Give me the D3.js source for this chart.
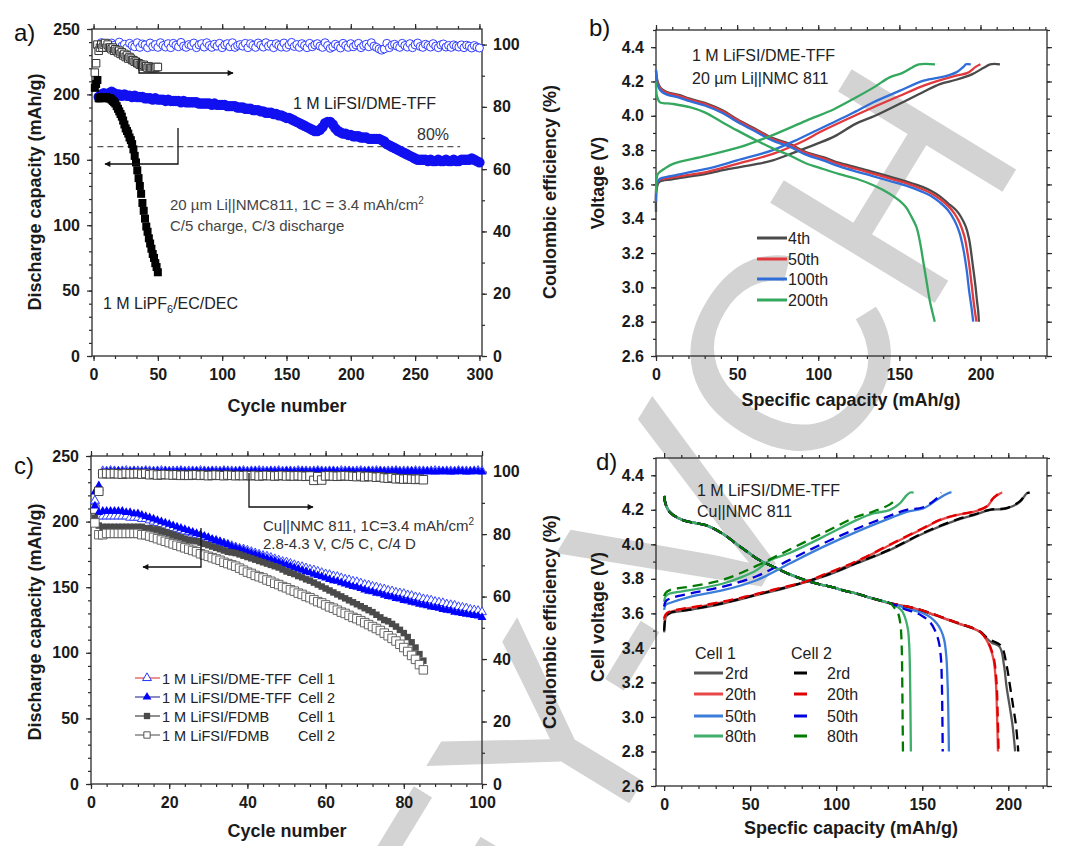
<!DOCTYPE html>
<html><head><meta charset="utf-8">
<script src="https://cdn.jsdelivr.net/npm/d3@7"></script>
<style>html,body{margin:0;padding:0;background:#fff;} svg{display:block;}</style>
</head><body>
<svg id="chart" width="1080" height="846"></svg>
<script>
// ---------------- DATA ----------------
const aCycleTicks = [0, 50, 100, 150, 200, 250, 300];
const capTicks = [0, 50, 100, 150, 200, 250];
const ceTicks = [0, 20, 40, 60, 80, 100];
const cCycleTicks = [0, 20, 40, 60, 80, 100];
const voltTicks = [2.6, 2.8, 3.0, 3.2, 3.4, 3.6, 3.8, 4.0, 4.2, 4.4];
const qTicks = [0, 50, 100, 150, 200];

// panel a: LiFSI/DME-TFF discharge capacity, cycles 4..300 every 2nd cycle
const aBlueCapStart = 4, aBlueStep = 2;
const aBlueCap = [198,200,201,200,201,202,201,200,200,199,
200,199,199,198,199,198,198,198,197,197,
197,196,197,196,196,196,195,196,195,195,
195,195,194,195,194,194,194,194,194,193,
193,193,193,193,192,193,192,192,192,192,
191,191,191,191,190,190,190,189,189,189,
188,188,188,187,187,186,186,186,185,185,
184,184,183,182,182,181,180,179,178,177,
176,175,174,173,172,172,173,175,178,179,
179,177,174,172,171,170,170,169,169,168,
168,168,167,167,167,166,166,166,166,166,
165,164,162,161,160,159,158,157,156,155,
154,153,152,151,150,150,150,150,149,150,
149,149,150,149,149,150,149,149,150,149,
149,150,150,150,150,151,150,149,148];
// panel a: LiFSI/DME-TFF coulombic efficiency, cycles 4..300 every 2nd cycle
const aBlueCE = [99.6,100.6,99.2,100.3,99.0,100.5,99.8,99.1,100.8,99.5,100.1,98.9,100.4,99.7,99.3,100.6,99.1,100.2,99.9,99.0,
100.5,99.4,100.0,99.1,100.6,99.7,99.2,100.3,99.0,100.4,99.8,99.3,100.7,99.5,99.1,100.0,99.7,100.5,99.0,99.9,
100.3,99.2,100.6,99.7,99.1,100.1,99.5,100.4,99.0,99.9,100.3,99.3,100.6,99.1,99.7,100.0,99.5,100.4,99.0,100.3,
99.7,99.1,100.5,99.8,99.2,100.6,99.5,100.1,99.0,100.3,99.7,99.2,100.5,99.1,99.9,100.7,99.4,100.0,99.1,100.3,
99.7,99.0,100.4,99.3,99.9,100.3,99.5,99.1,100.6,99.7,98.8,99.3,100.1,99.5,98.9,100.4,99.7,99.1,100.3,99.3,
99.9,100.4,99.0,99.7,100.1,99.3,100.6,99.5,99.1,98.6,98.2,98.6,100.4,99.0,99.8,100.1,99.5,99.1,100.4,99.7,
99.2,100.3,99.0,99.9,100.5,99.4,99.1,100.1,99.7,99.2,100.3,99.5,99.0,99.9,100.2,99.2,99.7,99.1,99.9,99.5,
99.2,99.9,99.0,99.8,99.5,98.9,99.7,99.2,98.9];
// panel a: LiPF6/EC/DEC, cycles 1..50
const aBlackCap = [205,208,211,197,197,198,198,198,198,198,
197,197,197,196,195,194,193,191,189,187,
185,183,180,177,174,172,170,167,165,162,
158,153,148,142,136,130,124,117,111,105,
99,95,90,86,82,78,75,71,68,64];
const aBlackCE = [91,94,100,98,99,100,99,100,100.5,99,
100,99,99,98.5,99,98,98.5,98,97.5,98,
97,97.5,96.5,97,96,96.5,95.5,96,95.5,95,
95,94.5,94.5,94,94,93.5,93.5,93,93.5,93,
93,92.5,93,92.5,92.5,92.5,92.5,92.5,92.8,92.8];
const aRef80 = 160;

// panel c: cycles 1..N
const cDmeCap1 = [216,204,204,204,204,204,204,204,204,203,
203,203,202,202,201,200,199,198,197,196,
195,194.5,193.5,192.5,192,191,190,189,188,187,
186,185.5,184.5,183.5,182.5,181.5,180.5,179.5,179,178,
177,176,175,174,173.5,172.5,171.5,170.5,169.5,169,
168,167,166,165.5,164.5,163.5,163,162,161,160,
159.5,158.5,158,157,156,155.5,154.5,154,153,152,
151.5,150.5,150,149,148.5,147.5,147,146,145.5,145,
144,143.5,142.5,142,141,140.5,140,139,138.5,138,
137,136.5,136,135,134.5,134,133,132.5,132,131];
const cDmeCap2 = [212,207,208,208,208,208,208,208,207,207,
206,206,205,204,203,202,201,200,199,198,
197,196,195,194,193,192,191,190,189,188,
186.5,185.5,184.5,183.5,182.5,181,180,179,178,177,
176,175,174,173,172,171,170,169,168,167,
166,165,164,163,162,161,160,159,158,157,
156,155,154.5,153.5,152.5,151.5,150.5,150,149,148,
147,146.5,145.5,145,144,143,142.5,141.5,141,140,
139.5,138.5,138,137,136.5,136,135,134.5,134,133,
132.5,132,131,130.5,130,129.5,129,128.5,128,127];
const cFdmbCap1 = [203,197,196,196,196,196,196,196,196,196,
196,196,196,195,195,194,194,193,192,191,
190,189,188,187,186,185.5,185,184,183,182,
181,180,179,178,177,176.5,176,175,174,173,
172,171,170,169,168,167,166,165,163.5,162,
161,160,158.5,157.5,156,155,153.5,152,150.5,149,
147.5,146,144.5,143,141.5,140,138.5,137,135.5,134,
132.5,131,129,127,125,124,122,120,117.5,115,
112,108,104,99,94];
const cFdmbCap2 = [199,190,190,191,191,191,191,191,191,191,
191,191,190,190,189,188,187,186,185,184,
183,182,181,180,179,178,177,175.5,174.5,173.5,
172.5,171.5,170.5,169,168,167,166,164.5,163,161.5,
160.5,159,158,157,155.5,154.5,153,152,150.5,149.5,
148,147,145.5,144.5,143,142,140.5,139,138,136.5,
135,134,132.5,131,130,128.5,127,126,124.5,123,
121.5,120,118.5,117,115,113,111,109,106.5,104,
101,98,95,91,87];
const cDmeCE1 = [90.5,94.8,100.2,100.1,100.3,100.2,100.1,100.2,100.3,100.1,100.2,100.2,
100.1,100.3,100.2,100.1,100.2,100.3,100.2,100.1,100.2,100.2,
100.3,100.1,100.2,100.2,100.1,100.3,100.2,100.1,100.2,100.2,
100.1,100.3,100.2,100.2,100.1,100.2,100.3,100.1,100.2,100.2,
100.3,100.2,100.1,100.2,100.2,100.3,100.1,100.2,100.2,100.1,
100.3,100.2,100.2,100.1,100.2,100.3,100.2,100.1,100.2,100.2,
100.1,100.3,100.2,100.2,100.1,100.2,100.3,100.1,100.2,100.2,
100.3,100.2,100.1,100.2,100.2,100.3,100.1,100.2,100.2,100.1,
100.3,100.2,100.2,100.1,100.2,100.3,100.2,100.1,100.2,100.2,
100.1,100.3,100.2,100.2,100.1,100.2,100.3,100.2];
const cDmeCE2 = [93.5,95.5,
99.8,99.9,100.0,99.9,100.1,100.0,99.9,100.0,100.1,99.9,
100.0,100.1,99.9,100.0,100.0,99.9,100.1,100.0,99.9,100.0,
100.1,100.0,99.9,100.0,100.1,99.9,100.0,100.0,100.1,99.9,
100.0,100.1,100.0,99.9,100.0,100.1,100.0,99.9,100.0,100.1,
100.0,99.9,100.0,100.1,100.0,100.0,99.9,100.1,100.0,99.9,
100.0,100.1,100.0,99.9,100.0,100.1,100.0,99.9,100.0,100.1,
100.0,99.9,100.0,100.1,100.0,99.9,100.0,100.0,100.1,99.9,
100.0,100.1,100.0,99.9,100.0,100.1,100.0,99.9,100.0,100.1,
100.0,99.9,100.0,100.1,100.0,99.9,100.0,100.1,100.0,99.9,
100.0,100.1,100.0,99.9,100.0,100.1,100.0,99.9];
const cFdmbCE = [88.0,93.7,99.3,99.4,99.3,99.4,99.3,99.2,99.4,99.3,
99.3,99.4,99.2,99.4,99.0,99.2,98.9,99.0,99.1,99.0,
98.9,99.0,98.8,98.9,98.8,98.9,99.0,98.8,98.9,98.7,
98.8,98.9,98.8,98.7,98.9,98.8,98.7,98.8,98.7,98.8,
98.7,98.8,98.6,98.7,98.8,98.7,98.6,98.7,98.8,98.6,
98.7,98.6,98.7,98.6,98.5,98.6,97.2,98.4,97.3,98.6,
98.7,98.6,98.5,98.6,98.7,98.6,98.5,98.4,98.6,98.3,
98.5,98.4,98.2,98.3,98.0,97.9,98.1,97.7,97.8,97.6,
97.7,97.6,97.5,97.6,97.4];

// panel b: [capacity mAh/g, voltage V]
const bLabels = ["4th", "50th", "100th", "200th"];
const bCharge = [
 [[0,3.44],[0.5,3.58],[2,3.615],[10,3.63],[20,3.645],[31,3.662],[45,3.69],[60,3.715],[72,3.74],[85,3.785],[99,3.836],[110,3.88],[123,3.953],[135,4.0],[154,4.088],[165,4.14],[175,4.185],[185,4.21],[195,4.243],[202,4.28],[206,4.30],[212,4.30]],
 [[0,3.5],[0.5,3.6],[2,3.625],[10,3.64],[20,3.655],[31,3.672],[50,3.72],[72,3.778],[88,3.84],[103,3.914],[120,3.99],[134,4.05],[150,4.115],[165,4.176],[185,4.234],[192,4.25],[197,4.285],[200,4.30]],
 [[0,3.5],[0.5,3.6],[2,3.63],[10,3.65],[20,3.67],[31,3.69],[50,3.74],[72,3.80],[88,3.865],[103,3.933],[120,4.01],[134,4.079],[150,4.145],[165,4.205],[178,4.23],[185,4.253],[190,4.29],[191,4.30],[194,4.30]],
 [[0,3.55],[0.5,3.64],[1.2,3.662],[5,3.69],[10.5,3.72],[30,3.765],[51.6,3.817],[70,3.88],[92.7,3.972],[110,4.04],[123.5,4.108],[135,4.17],[144,4.224],[152,4.25],[158,4.282],[162,4.30],[172,4.30]]
];
const bDischarge = [
 [[0,4.26],[1,4.2],[3,4.16],[6.4,4.14],[14.6,4.12],[20.8,4.1],[30,4.075],[41.3,4.03],[50,3.98],[61.9,3.92],[72,3.87],[82.4,3.836],[92,3.79],[103,3.759],[113,3.725],[123.5,3.70],[133,3.675],[144,3.645],[155,3.615],[164.6,3.584],[170,3.56],[175,3.53],[180,3.49],[185,3.449],[188,3.41],[191,3.352],[193,3.28],[195.4,3.12],[197,3.0],[197.8,2.925],[198.6,2.86],[199,2.80]],
 [[0,4.26],[1,4.19],[3,4.155],[6.4,4.135],[14.6,4.115],[20.8,4.095],[30,4.07],[41.3,4.025],[50,3.975],[61.9,3.915],[72,3.865],[82.4,3.83],[92,3.785],[103,3.752],[113,3.718],[123.5,3.69],[133,3.665],[144,3.635],[155,3.605],[164.6,3.57],[170,3.545],[175,3.515],[180,3.475],[184,3.43],[187,3.38],[190,3.3],[192.5,3.17],[194.5,3.02],[196,2.9],[197.5,2.80]],
 [[0,4.27],[1,4.18],[3,4.145],[6.4,4.125],[14.6,4.105],[20.8,4.085],[30,4.06],[41.3,4.015],[50,3.965],[61.9,3.905],[72,3.855],[82.4,3.82],[92,3.775],[103,3.74],[113,3.705],[123.5,3.675],[133,3.65],[144,3.62],[155,3.59],[164.6,3.555],[170,3.53],[175,3.495],[180,3.45],[184,3.39],[187,3.32],[189.5,3.22],[191.5,3.1],[193,2.98],[194.5,2.88],[195.5,2.80]],
 [[0,4.2],[0.5,4.12],[2.3,4.08],[10,4.07],[20.8,4.05],[30,4.02],[41.3,3.96],[50,3.915],[61.9,3.856],[72,3.81],[82.4,3.769],[92,3.725],[103,3.69],[113,3.66],[123.5,3.633],[134,3.595],[144,3.546],[150,3.505],[154,3.468],[157,3.42],[160.5,3.352],[163,3.25],[164.6,3.158],[166.5,3.05],[168.7,2.925],[170.5,2.85],[171.8,2.80]]
];

// panel d: [capacity mAh/g, voltage V]
const dLabels = ["2rd", "20th", "50th", "80th"];
const dDisCommon = [[0,4.28],[1,4.23],[3,4.19],[5.2,4.17],[11,4.14],[17,4.125],[24.6,4.11],[34.3,4.06],[41,4.01],[47.9,3.96],[55,3.91],[63.4,3.87],[72,3.83],[82.8,3.79],[90,3.77],[98.3,3.75],[105,3.73],[111.8,3.715],[120,3.69],[131,3.66]];
const dDisTail1 = [
 [[141,3.638],[150,3.615],[160.3,3.58],[170,3.545],[179.7,3.512],[184,3.49],[188,3.45],[190.5,3.43],[195,3.406],[197.5,3.3],[199,3.174],[201,3.05],[202.5,2.95],[204,2.8]],
 [[141,3.638],[150,3.615],[160.3,3.58],[170,3.545],[179.7,3.512],[184,3.49],[187.4,3.445],[189.5,3.4],[191.5,3.33],[192.8,3.2],[193.5,3.0],[194,2.8]],
 [[135,3.65],[141,3.628],[146,3.615],[150.9,3.60],[155,3.575],[158.5,3.541],[161,3.5],[162.8,3.445],[164,3.35],[164.8,3.174],[165.2,3.0],[165.5,2.8]],
 [[134,3.645],[136,3.635],[138.5,3.61],[140.5,3.56],[141.8,3.5],[142.5,3.4],[142.9,3.25],[143.2,3.0],[143.4,2.8]]
];
const dDisTail2 = [
 [[141,3.64],[150,3.617],[160.3,3.582],[170,3.547],[179.7,3.514],[184,3.492],[188,3.455],[191,3.44],[196,3.41],[199,3.3],[201,3.18],[203,3.05],[204.5,2.95],[205.8,2.8]],
 [[141,3.64],[150,3.617],[160.3,3.582],[170,3.547],[179.7,3.514],[184,3.49],[187.6,3.445],[189.8,3.4],[191.8,3.33],[193.2,3.2],[193.9,3.0],[194.4,2.8]],
 [[135,3.645],[141,3.62],[146,3.605],[150,3.585],[154,3.555],[157,3.51],[159.5,3.44],[160.8,3.35],[161.4,3.2],[161.7,3.0],[161.9,2.8]],
 [[132,3.655],[134,3.63],[136,3.6],[137.4,3.53],[138.1,3.4],[138.4,3.2],[138.6,3.0],[138.8,2.8]]
];
const dCharge1 = [
 [[0,3.49],[0.5,3.55],[1,3.58],[3.3,3.60],[15,3.62],[34.3,3.657],[53.7,3.705],[73,3.754],[92.4,3.812],[111.8,3.889],[131,3.966],[150.6,4.063],[170,4.14],[180,4.169],[189,4.198],[199,4.208],[206.8,4.246],[210.7,4.295],[212,4.30]],
 [[0,3.56],[1,3.59],[3.3,3.608],[24.6,3.647],[44,3.686],[63.4,3.734],[82.8,3.783],[92.4,3.82],[111.8,3.899],[131,3.995],[150.6,4.092],[160.3,4.14],[170,4.169],[179.7,4.188],[187.4,4.217],[191.3,4.266],[195.2,4.295],[196.5,4.30]],
 [[0,3.62],[1,3.65],[3.3,3.66],[15,3.696],[34.3,3.734],[53.7,3.792],[73,3.889],[92.4,3.985],[111.8,4.072],[131,4.15],[141,4.188],[150.6,4.208],[158.3,4.256],[163,4.285],[166,4.30],[167,4.30]],
 [[0,3.667],[1,3.70],[3.3,3.715],[15,3.734],[34.3,3.773],[45,3.81],[53.7,3.85],[61,3.905],[73,3.95],[92.4,4.043],[111.8,4.14],[121.5,4.179],[131,4.198],[137,4.237],[141,4.285],[143,4.30],[145,4.30]]
];
const dCharge2 = [
 [[0,3.5],[0.5,3.56],[1,3.585],[3.3,3.603],[15,3.622],[34.3,3.66],[53.7,3.708],[73,3.757],[92.4,3.815],[111.8,3.892],[131,3.969],[150.6,4.066],[170,4.143],[180,4.172],[189,4.2],[199,4.21],[206.8,4.25],[210.7,4.295],[212.5,4.30]],
 [[0,3.57],[1,3.595],[3.3,3.61],[24.6,3.65],[44,3.689],[63.4,3.737],[82.8,3.786],[92.4,3.823],[111.8,3.902],[131,3.998],[150.6,4.095],[160.3,4.142],[170,4.171],[179.7,4.19],[187.4,4.22],[191.3,4.268],[195,4.30]],
 [[0,3.64],[1,3.67],[3.3,3.685],[15,3.715],[34.3,3.755],[53.7,3.815],[73,3.91],[92.4,4.005],[111.8,4.09],[131,4.165],[141,4.2],[150.6,4.215],[158.3,4.265],[161,4.30]],
 [[0,3.70],[1,3.72],[3.3,3.735],[15,3.755],[34.3,3.795],[53.7,3.875],[73,3.97],[92.4,4.065],[111.8,4.16],[121.5,4.19],[131,4.23],[134,4.255]]
];

// ---------------- DRAWING ----------------
const svg = d3.select("#chart");
const FONT = "'Liberation Sans', Arial, Helvetica, sans-serif";
const AX = "#2b2b2b";

// watermark (behind everything)
svg.append("text")
  .attr("transform", "translate(1028,150) rotate(-58.6)")
  .attr("text-anchor", "end").attr("font-family", FONT).attr("font-size", 280)
  .attr("fill", "#d3d3d3").text("WILEY-VCH");

function tickSet(g, orient, scale, major, minor, pos, labels, fmt, pad) {
  const gen = {bottom: d3.axisBottom, top: d3.axisTop, left: d3.axisLeft, right: d3.axisRight}[orient];
  const tr = (orient === "bottom" || orient === "top") ? `translate(0,${pos})` : `translate(${pos},0)`;
  const gm = g.append("g").attr("transform", tr).call(gen(scale).tickValues(minor).tickSize(3).tickFormat(""));
  const gM = g.append("g").attr("transform", tr).call(gen(scale).tickValues(major).tickSize(5).tickPadding(pad || 7).tickFormat(labels ? fmt : ""));
  for (const s of [gm, gM]) {
    s.select(".domain").remove();
    s.selectAll("line").attr("stroke", AX).attr("stroke-width", 1.2);
  }
  gM.selectAll("text").attr("font-family", FONT).attr("font-size", 16).attr("font-weight", "bold").attr("fill", "#1a1a1a");
}
function frame(x, y) {
  const [x0, x1] = x.range(), [yb, yt] = y.range();
  svg.append("rect").attr("x", x0).attr("y", yt).attr("width", x1 - x0).attr("height", yb - yt)
    .attr("fill", "none").attr("stroke", AX).attr("stroke-width", 1.3);
}
function title(txt, x, y, rot, size, weight) {
  return svg.append("text").attr("font-family", FONT).attr("font-size", size || 18)
    .attr("font-weight", weight || "bold").attr("fill", "#1a1a1a").attr("text-anchor", "middle")
    .attr("transform", `translate(${x},${y})` + (rot ? ` rotate(${rot})` : "")).text(txt);
}
function label(txt, x, y, size, color, anchor) {
  return svg.append("text").attr("x", x).attr("y", y).attr("font-family", FONT)
    .attr("font-size", size || 16).attr("fill", color || "#2a2a2a").attr("text-anchor", anchor || "start").text(txt);
}
const defs = svg.append("defs");
defs.append("marker").attr("id", "arr").attr("viewBox", "0 0 10 10").attr("refX", 9).attr("refY", 5)
  .attr("markerWidth", 9).attr("markerHeight", 6).attr("markerUnits", "userSpaceOnUse").attr("orient", "auto")
  .append("path").attr("d", "M0,0 L10,5 L0,10 Z").attr("fill", "#111");
function arrow(pts) {
  svg.append("path").attr("d", d3.line()(pts)).attr("fill", "none").attr("stroke", "#111")
    .attr("stroke-width", 1.3).attr("marker-end", "url(#arr)");
}
const fmt0 = d3.format("d"), fmt1 = d3.format(".1f");
const minorRange = (a, b, s) => d3.range(a, b + 1e-9, s);

// ===== Panel a =====
const ax = d3.scaleLinear().domain([-1.2, 302]).range([92, 482]);
const ay = d3.scaleLinear().domain([0, 250]).range([356, 29]);
const ayR = d3.scaleLinear().domain([0, 105]).range([356, 29]);
{
  const g = svg.append("g");
  tickSet(g, "bottom", ax, aCycleTicks, minorRange(0, 300, 50 / 3), 356, true, fmt0, 8);
  tickSet(g, "top", ax, aCycleTicks, minorRange(0, 300, 50 / 3), 29, false);
  tickSet(g, "left", ay, capTicks, minorRange(0, 250, 10), 92, true, fmt0, 7);
  tickSet(g, "right", ayR, ceTicks, minorRange(0, 100, 10), 482, true, fmt0, 6);
  frame(ax, ay);
  svg.append("line").attr("x1", ax(3)).attr("x2", ax(285)).attr("y1", ay(aRef80)).attr("y2", ay(aRef80))
    .attr("stroke", "#555").attr("stroke-width", 1.2).attr("stroke-dasharray", "6,4");
  svg.append("g").selectAll("circle").data(aBlueCE).join("circle")
    .attr("cx", (d, i) => ax(aBlueCapStart + i * aBlueStep)).attr("cy", d => ayR(d)).attr("r", 4)
    .attr("fill", "#fff").attr("stroke", "#2f3cff").attr("stroke-width", 1);
  svg.append("g").selectAll("path").data(aBlackCE).join("path")
    .attr("d", d3.symbol(d3.symbolSquare, 56)()).attr("transform", (d, i) => `translate(${ax(i + 1)},${ayR(d)})`)
    .attr("fill", "#fff").attr("stroke", "#333").attr("stroke-width", 1);
  svg.append("g").selectAll("circle").data(aBlueCap).join("circle")
    .attr("cx", (d, i) => ax(aBlueCapStart + i * aBlueStep)).attr("cy", d => ay(d)).attr("r", 5.2)
    .attr("fill", "#1010f0");
  svg.append("g").selectAll("path").data(aBlackCap).join("path")
    .attr("d", d3.symbol(d3.symbolSquare, 64)()).attr("transform", (d, i) => `translate(${ax(i + 1)},${ay(d)})`)
    .attr("fill", "#000");
  arrow([[139, 58], [139, 73], [233, 73]]);
  arrow([[178, 128], [178, 164], [105, 164]]);
  label("1 M LiFSI/DME-TFF", 293, 109, 16, "#222");
  label("80%", 417, 140, 16, "#333");
  const t1 = label("20 \u00b5m Li||NMC811, 1C = 3.4 mAh/cm", 170, 210, 15, "#444");
  t1.append("tspan").attr("dy", -6).attr("font-size", 10).text("2");
  label("C/5 charge, C/3 discharge", 170, 231, 15, "#444");
  const t2 = label("1 M LiPF", 103, 309, 16, "#222");
  t2.append("tspan").attr("dy", 4).attr("font-size", 11).text("6");
  t2.append("tspan").attr("dy", -4).text("/EC/DEC");
  title("Cycle number", 287, 412);
  title("Discharge capacity (mAh/g)", 41, 192, -90);
  title("Coulombic efficiency (%)", 556, 192, -90);
  label("a)", 14, 41, 24, "#111");
}

// ===== Panel b =====
const bx = d3.scaleLinear().domain([0, 241]).range([656, 1047]);
const by = d3.scaleLinear().domain([2.6, 4.5]).range([356, 30]);
const bColors = ["#4a4a4a", "#e0393e", "#2f6ed8", "#35a85f"];
{
  const g = svg.append("g");
  tickSet(g, "bottom", bx, qTicks, minorRange(0, 240, 10), 356, true, fmt0, 8);
  tickSet(g, "top", bx, qTicks, minorRange(0, 240, 10), 30, false);
  tickSet(g, "left", by, voltTicks, minorRange(2.6, 4.5, 0.1), 656, true, fmt1, 7);
  tickSet(g, "right", by, voltTicks, minorRange(2.6, 4.5, 0.1), 1047, false);
  frame(bx, by);
  const line = d3.line().x(d => bx(d[0])).y(d => by(d[1])).curve(d3.curveCatmullRom.alpha(0.5));
  for (let i = 0; i < 4; i++) {
    svg.append("path").attr("d", line(bCharge[i])).attr("fill", "none").attr("stroke", bColors[i]).attr("stroke-width", 2.3);
    svg.append("path").attr("d", line(bDischarge[i])).attr("fill", "none").attr("stroke", bColors[i]).attr("stroke-width", 2.3);
  }
  const ly = [238, 259, 279, 300];
  bLabels.forEach((lab, i) => {
    svg.append("line").attr("x1", 757).attr("x2", 787).attr("y1", ly[i]).attr("y2", ly[i]).attr("stroke", bColors[i]).attr("stroke-width", 3);
    label(lab, 788, ly[i] + 6, 16, "#222");
  });
  label("1 M LiFSI/DME-TFF", 692, 61, 16, "#222");
  label("20 \u00b5m Li||NMC 811", 692, 84, 16, "#222");
  title("Specific capacity (mAh/g)", 851, 406);
  title("Voltage (V)", 604, 183, -90);
  label("b)", 589, 36, 24, "#111");
}

// ===== Panel c =====
const cx = d3.scaleLinear().domain([0, 100]).range([91, 482]);
const cy = d3.scaleLinear().domain([0, 250]).range([784, 456]);
const cyR = d3.scaleLinear().domain([0, 105]).range([784, 456]);
{
  const g = svg.append("g");
  tickSet(g, "bottom", cx, cCycleTicks, minorRange(0, 100, 4), 784, true, fmt0, 8);
  tickSet(g, "top", cx, cCycleTicks, minorRange(0, 100, 4), 456, false);
  tickSet(g, "left", cy, capTicks, minorRange(0, 250, 10), 91, true, fmt0, 7);
  tickSet(g, "right", cyR, ceTicks, minorRange(0, 100, 10), 482, true, fmt0, 6);
  frame(cx, cy);
  const tri = d3.symbol(d3.symbolTriangle, 34)();
  const sqF = d3.symbol(d3.symbolSquare, 42)();
  const sqO = d3.symbol(d3.symbolSquare, 72)();
  const put = (arr, sc, shape, fill, stroke) => svg.append("g").selectAll("path").data(arr).join("path")
    .attr("d", shape).attr("transform", (d, i) => `translate(${cx(i + 1)},${sc(d)})`)
    .attr("fill", fill).attr("stroke", stroke || "none").attr("stroke-width", 0.9);
  put(cDmeCE1, cyR, tri, "#fff", "#2233ff");
  put(cDmeCE2, cyR, tri, "#0000ff");
  put(cFdmbCE, cyR, sqO, "#fff", "#333");
  put(cDmeCap1, cy, tri, "#fff", "#2233ff");
  put(cDmeCap2, cy, tri, "#0000ff");
  put(cFdmbCap1, cy, sqF, "#4a4a4a");
  put(cFdmbCap2, cy, sqO, "#fff", "#555");
  arrow([[249, 473], [249, 507], [313, 507]]);
  arrow([[201, 528], [201, 567], [143, 567]]);
  const t3 = label("Cu||NMC 811, 1C=3.4 mAh/cm", 263, 531, 15, "#333");
  t3.append("tspan").attr("dy", -6).attr("font-size", 10).text("2");
  label("2.8-4.3 V, C/5 C, C/4 D", 263, 549, 15, "#333");
  const rows = [
    {y: 678, line: "#e04848", shape: tri, fill: "#fff", stroke: "#2233ff", t: "1 M LiFSI/DME-TFF", c: "Cell 1"},
    {y: 697, line: "#3a3a9a", shape: tri, fill: "#0000ff", stroke: "none", t: "1 M LiFSI/DME-TFF", c: "Cell 2"},
    {y: 716, line: "#444", shape: d3.symbol(d3.symbolSquare, 40)(), fill: "#4a4a4a", stroke: "none", t: "1 M LiFSI/FDMB", c: "Cell 1"},
    {y: 735, line: "#666", shape: d3.symbol(d3.symbolSquare, 40)(), fill: "#fff", stroke: "#555", t: "1 M LiFSI/FDMB", c: "Cell 2"}
  ];
  rows.forEach(r => {
    svg.append("line").attr("x1", 135).attr("x2", 160).attr("y1", r.y).attr("y2", r.y).attr("stroke", r.line).attr("stroke-width", 1.2);
    svg.append("path").attr("d", r.shape).attr("transform", `translate(147,${r.y})`).attr("fill", r.fill).attr("stroke", r.stroke).attr("stroke-width", 1);
    label(r.t, 162, r.y + 5.5, 14.5, "#222");
    label(r.c, 298, r.y + 5.5, 14.5, "#222");
  });
  title("Cycle number", 287, 837);
  title("Discharge capacity (mAh/g)", 41, 622, -90);
  title("Coulombic efficiency (%)", 556, 622, -90);
  label("c)", 14, 474, 24, "#111");
}

// ===== Panel d =====
const dx = d3.scaleLinear().domain([-4.7, 222.5]).range([656, 1047]);
const dy = d3.scaleLinear().domain([2.6, 4.5]).range([786, 458]);
const dCol1 = ["#555555", "#e84848", "#3b7dd8", "#3fae6c"];
const dCol2 = ["#000000", "#e00000", "#0000dd", "#007a00"];
{
  const g = svg.append("g");
  tickSet(g, "bottom", dx, qTicks, minorRange(0, 220, 10), 786, true, fmt0, 8);
  tickSet(g, "top", dx, qTicks, minorRange(0, 220, 10), 458, false);
  tickSet(g, "left", dy, voltTicks, minorRange(2.6, 4.5, 0.1), 656, true, fmt1, 7);
  tickSet(g, "right", dy, voltTicks, minorRange(2.6, 4.5, 0.1), 1047, false);
  frame(dx, dy);
  const line = d3.line().x(d => dx(d[0])).y(d => dy(d[1])).curve(d3.curveCatmullRom.alpha(0.5));
  for (let i = 0; i < 4; i++) {
    svg.append("path").attr("d", line(dCharge1[i])).attr("fill", "none").attr("stroke", dCol1[i]).attr("stroke-width", 2.3);
    svg.append("path").attr("d", line(dDisCommon.concat(dDisTail1[i]))).attr("fill", "none").attr("stroke", dCol1[i]).attr("stroke-width", 2.3);
  }
  for (let i = 0; i < 4; i++) {
    svg.append("path").attr("d", line(dCharge2[i])).attr("fill", "none").attr("stroke", dCol2[i]).attr("stroke-width", 2.3).attr("stroke-dasharray", "10,6");
    svg.append("path").attr("d", line(dDisCommon.concat(dDisTail2[i]))).attr("fill", "none").attr("stroke", dCol2[i]).attr("stroke-width", 2.3).attr("stroke-dasharray", "10,6");
  }
  label("Cell 1", 695, 659, 16, "#222");
  label("Cell 2", 791, 659, 16, "#222");
  const ly = [673, 694, 716, 736];
  dLabels.forEach((lab, i) => {
    svg.append("line").attr("x1", 694).attr("x2", 723).attr("y1", ly[i]).attr("y2", ly[i]).attr("stroke", dCol1[i]).attr("stroke-width", 3);
    label(lab, 725, ly[i] + 6, 16, "#222");
    svg.append("line").attr("x1", 794).attr("x2", 807).attr("y1", ly[i]).attr("y2", ly[i]).attr("stroke", dCol2[i]).attr("stroke-width", 3);
    label(lab, 827, ly[i] + 6, 16, "#222");
  });
  label("1 M LiFSI/DME-TFF", 697, 496, 16, "#222");
  label("Cu||NMC 811", 697, 517, 16, "#222");
  title("Specfic capacity (mAh/g)", 851, 834);
  title("Cell voltage (V)", 604, 617, -90);
  label("d)", 596, 470, 24, "#111");
}
</script>
</body></html>
